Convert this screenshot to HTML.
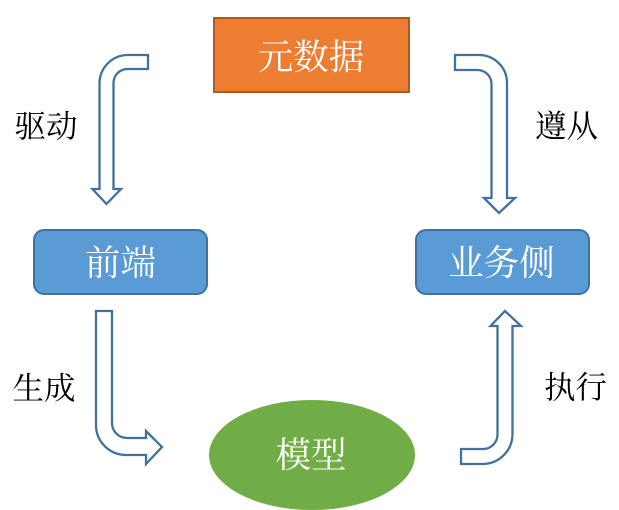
<!DOCTYPE html>
<html>
<head>
<meta charset="utf-8">
<style>
html,body{margin:0;padding:0;background:#fff}
svg{display:block}
text{font-family:"Liberation Serif","Noto Serif CJK SC",serif}
</style>
</head>
<body>
<svg width="619" height="510" viewBox="0 0 619 510" xmlns="http://www.w3.org/2000/svg">
<rect width="619" height="510" fill="#fff"/>
<rect x="214" y="18" width="195" height="74" fill="#ED7D31" stroke="#AE5A21" stroke-width="2"/>
<rect x="34" y="230" width="173" height="64" rx="10" ry="10" fill="#5B9BD5" stroke="#41719C" stroke-width="2"/>
<rect x="416" y="230" width="173" height="64" rx="10" ry="10" fill="#5B9BD5" stroke="#41719C" stroke-width="2"/>
<ellipse cx="312" cy="455" rx="103" ry="55" fill="#70AD47"/>

<g fill="#fff" stroke="#41719C" stroke-width="2.300">
<path d="M148 55 H128 A28.500 28.500 0 0 0 99.500 83.500 V189 H92.500 L106.500 204 L121 189 H113.500 V83 A14 14 0 0 1 127.500 69 H148 Z"/>
<path d="M455 55 H479 A28 28 0 0 1 507 83 V198 H515 L499 213 L484 198 H491.500 V84 A14 14 0 0 0 477.500 70 H455 Z"/>
<path d="M96 311 H112 V423 A15 15 0 0 0 127 438 H146 V431 L162 447 L146 464 V455 H126 A30 30 0 0 1 96 425 Z"/>
<path d="M461 449 H483 A14.500 14.500 0 0 0 497.500 434.500 V326 H490.500 L505 311 L521 326 H512.500 V434 A30 30 0 0 1 482.500 464 H461 Z"/>
</g>

<g font-size="35.500" text-anchor="middle">
<text x="311" y="69" fill="#fff">元数据</text>
<text x="120.500" y="275" fill="#fff">前端</text>
<text x="501.500" y="275" fill="#fff">业务侧</text>
<text x="311" y="467" fill="#fff">模型</text>
</g>
<g font-size="31.500" text-anchor="middle" fill="#000">
<text x="46" y="137">驱动</text>
<text x="566.500" y="137">遵从</text>
<text x="44" y="399">生成</text>
<text x="575.500" y="398">执行</text>
</g>
</svg>
</body>
</html>
